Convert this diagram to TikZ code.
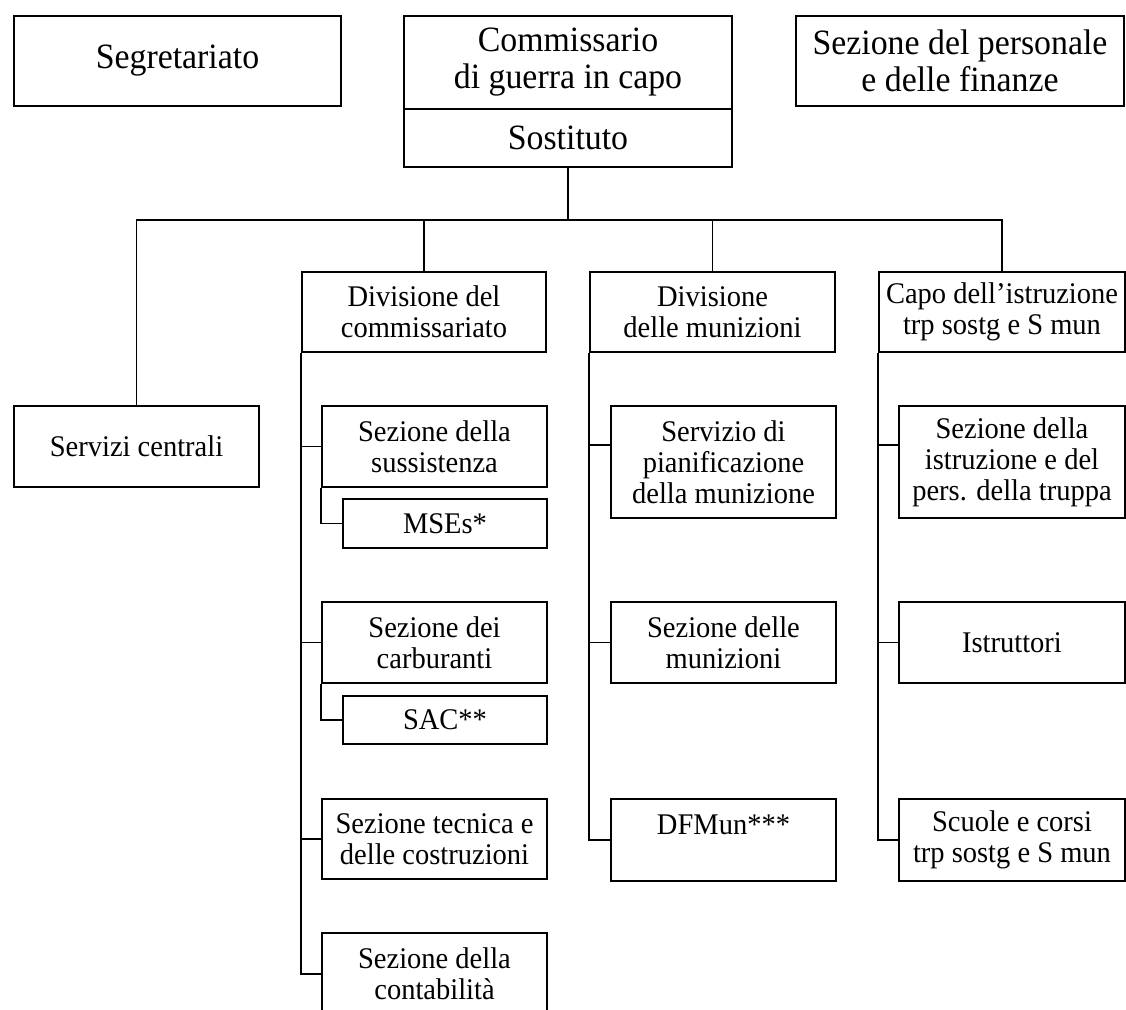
\documentclass[tikz,border=0pt]{standalone}
\usepackage{fontspec}
\setmainfont[FakeStretch=0.95]{Liberation Serif}
\usepackage{tikz}

\begin{document}
\begin{tikzpicture}[x=0.5pt,y=-0.5pt,
        box/.style={draw,line width=0.85pt,align=center,inner sep=0pt,
            font=\fontsize{15}{15.5}\selectfont},
        topbox/.style={box,font=\fontsize{17.8}{18.5}\selectfont},
        link/.style={line width=0.85pt}]
        \useasboundingbox (0,0) rectangle (1126,1009);
        \node[topbox,minimum width=163.5pt,minimum height=45pt] (segr) at (177.5,61) {Segretariato};
        \node[topbox,minimum width=164pt,minimum height=46.5pt] (comm) at (568,62.5) {Commissario\\di guerra in capo};
        \node[topbox,minimum width=164pt,minimum height=29pt] (sost) at (568,138) {Sostituto};
        \node[topbox,minimum width=164pt,minimum height=45pt] (pers) at (960,61) {Sezione del personale\\e delle finanze};
        \node[box,minimum width=122.5pt,minimum height=40.5pt] (serv) at (136.5,446.5) {Servizi centrali};
        \node[box,minimum width=122pt,minimum height=40pt] (divcomm) at (424,312) {Divisione del\\commissariato};
        \node[box,minimum width=122.5pt,minimum height=40pt] (divmun) at (712.5,312) {Divisione\\delle munizioni};
        \node[box,minimum width=123pt,minimum height=40pt] (capo) at (1002,312) {Capo dell’istruzione\\trp sostg e S mun};
        \node[box,minimum width=112.5pt,minimum height=40.5pt] (suss) at (434.5,446.5) {Sezione della\\sussistenza};
        \node[box,minimum width=102pt,minimum height=24.5pt] (mses) at (445,523.5) {MSEs*};
        \node[box,minimum width=112.5pt,minimum height=40.5pt] (carb) at (434.5,642.5) {Sezione dei\\carburanti};
        \node[box,minimum width=102pt,minimum height=24pt] (sac) at (445,720) {SAC**};
        \node[box,minimum width=112.5pt,minimum height=40pt] (tecn) at (434.5,839) {Sezione tecnica e\\delle costruzioni};
        \node[box,minimum width=112.5pt,minimum height=41pt] (cont) at (434.5,974) {Sezione della\\contabilità};
        \node[box,minimum width=112.5pt,minimum height=56pt] (pian) at (723.5,462) {Servizio di\\pianificazione\\della munizione};
        \node[box,minimum width=112.5pt,minimum height=40.5pt] (mun) at (723.5,642.5) {Sezione delle\\munizioni};
        \node[box,minimum width=112.5pt,minimum height=41pt] (dfmun) at (723.5,840) {DFMun***\\\mbox{}};
        \node[box,minimum width=113pt,minimum height=56pt] (istr) at (1012,462) {Sezione della\\istruzione e del\\pers. della truppa};
        \node[box,minimum width=113pt,minimum height=40.5pt] (istrutt) at (1012,642.5) {Istruttori};
        \node[box,minimum width=113pt,minimum height=41pt] (scuole) at (1012,840) {Scuole e corsi\\trp sostg e S mun};
        \draw[link] (sost.south) -- ++(0,52) coordinate (bus);
        \draw[link] (serv.north) |- (bus) -| (capo.north);
        \draw[link] (divcomm.north) -- (divcomm.north |- bus);
        \draw[link] (divmun.north) -- (divmun.north |- bus);
        \draw[link] (divcomm.south west) |- (cont.west);
        \draw[link] (divcomm.south west |- suss.west) -- (suss.west);
        \draw[link] (divcomm.south west |- carb.west) -- (carb.west);
        \draw[link] (divcomm.south west |- tecn.west) -- (tecn.west);
        \draw[link] (suss.south west) |- (mses.west);
        \draw[link] (carb.south west) |- (sac.west);
        \draw[link] (divmun.south west) |- (dfmun.west);
        \draw[link] (divmun.south west |- pian.north west) ++(0,40) -- ([yshift=-20pt]pian.north west);
        \draw[link] (divmun.south west |- mun.west) -- (mun.west);
        \draw[link] (capo.south west) |- (scuole.west);
        \draw[link] (capo.south west |- istr.north west) ++(0,40) -- ([yshift=-20pt]istr.north west);
        \draw[link] (capo.south west |- istrutt.west) -- (istrutt.west);
    \end{tikzpicture}
\end{document}
